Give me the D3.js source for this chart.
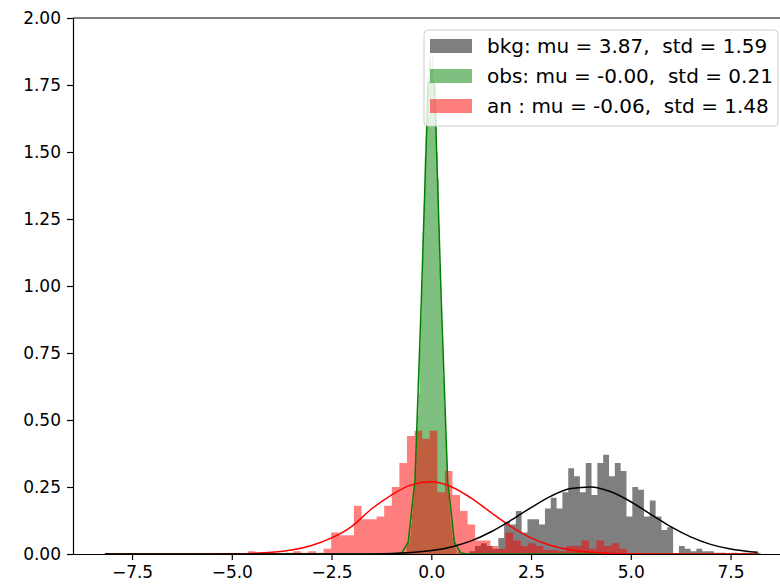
<!DOCTYPE html>
<html>
<head>
<meta charset="utf-8">
<script src="https://cdn.jsdelivr.net/npm/d3@7"></script>
<style>
body { margin: 0; background: #fff; }
svg { display: block; font-family: 'DejaVu Sans', sans-serif; }
.axis path, .axis line { stroke: #000; stroke-width: 1.2; }
.legend text { font-family: 'DejaVu Sans', sans-serif; font-size: 20px; fill: #000; white-space: pre; }
</style>
</head>
<body>
<div id="chart"></div>
<script>
// density histograms (50 bins each)
const bkgBinStart = 0.95, bkgBinWidth = 0.146;
const bkgDensity = [
  0.01, 0.03, 0.04, 0.03, 0.02, 0.06, 0.12, 0.11, 0.16, 0.08,
  0.13, 0.13, 0.11, 0.17, 0.21, 0.17, 0.23, 0.32, 0.29, 0.23,
  0.34, 0.22, 0.34, 0.37, 0.29, 0.34, 0.31, 0.14, 0.25, 0.24,
  0.14, 0.20, 0.14, 0.09, 0.10, 0.00, 0.03, 0.02, 0.01, 0.02,
  0.01, 0.01, 0.005, 0.005, 0.0, 0.005, 0.0, 0.005, 0.0, 0.005
];

const obsBinStart = -0.62, obsBinWidth = 0.0268;
const obsDensity = [
  0.03, 0.04, 0.04, 0.07, 0.11, 0.15, 0.19, 0.26, 0.30, 0.43,
  0.52, 0.60, 0.77, 0.88, 1.02, 1.20, 1.30, 1.48, 1.55, 1.72,
  1.78, 1.85, 1.84, 1.80, 1.86, 1.76, 1.70, 1.66, 1.50, 1.40,
  1.22, 1.07, 0.92, 0.80, 0.66, 0.55, 0.45, 0.36, 0.27, 0.22,
  0.17, 0.12, 0.09, 0.06, 0.04, 0.03, 0.02, 0.0, 0.01, 0.01
];

const anBinStart = -4.6, anBinWidth = 0.19;
const anDensity = [
  0.01, 0.0, 0.0, 0.003, 0.0, 0.005, 0.01, 0.005, 0.01, 0.005,
  0.02, 0.08, 0.07, 0.07, 0.18, 0.13, 0.13, 0.14, 0.18, 0.25,
  0.34, 0.44, 0.46, 0.43, 0.46, 0.23, 0.31, 0.22, 0.16, 0.11,
  0.05, 0.05, 0.03, 0.02, 0.08, 0.05, 0.03, 0.04, 0.03, 0.015,
  0.015, 0.01, 0.03, 0.03, 0.05, 0.02, 0.05, 0.03, 0.04, 0.02
];

// fitted normal curves
const bkgCurveX = [-8.18, -2, -1, -0.5, 0, 0.5, 1, 1.5, 2, 2.5, 3, 3.5, 4, 4.5, 5, 5.5, 6, 6.5, 7, 7.5, 8, 8.18];
const bkgCurveY = [0, 0.0003, 0.0023, 0.0057, 0.013, 0.0265, 0.049, 0.083, 0.126, 0.173, 0.216, 0.244, 0.250, 0.232, 0.195, 0.148, 0.102, 0.064, 0.036, 0.0185, 0.0086, 0.0062];

const obsCurveX = [-8.18, -0.91, -0.74, -0.58, -0.41, -0.25, -0.08, 0.08, 0.25, 0.41, 0.58, 0.74, 0.91, 8.18];
const obsCurveY = [0, 0, 0.004, 0.043, 0.275, 0.946, 1.758, 1.758, 0.946, 0.275, 0.043, 0.004, 0, 0];

const anCurveX = [-8.18, -6, -5, -4.5, -4, -3.5, -3, -2.5, -2, -1.5, -1, -0.5, 0, 0.5, 1, 1.5, 2, 2.5, 3, 3.5, 4, 4.5, 5, 6, 8.18];
const anCurveY = [0, 0.0001, 0.0008, 0.0023, 0.0063, 0.0148, 0.0317, 0.060, 0.1025, 0.168, 0.220, 0.258, 0.2694, 0.251, 0.2086, 0.1547, 0.1023, 0.0604, 0.0318, 0.0149, 0.0063, 0.0023, 0.0008, 0.0001, 0];

const legendLabels = [
  'bkg: mu = 3.87,  std = 1.59',
  'obs: mu = -0.00,  std = 0.21',
  'an : mu = -0.06,  std = 1.48'
];
const xTicks = [-7.5, -5.0, -2.5, 0.0, 2.5, 5.0, 7.5];
const yTicks = [0, 0.25, 0.5, 0.75, 1.0, 1.25, 1.5, 1.75, 2.0];

function bins(start, width, density) {
    return density.map(function (d, i) {
        return {x0: start + i * width, x1: start + (i + 1) * width, v: d};
    });
}

function points(xs, ys) {
    return xs.map(function (d, i) { return [d, ys[i]]; });
}

let svgWidth = 780, svgHeight = 586;
let margin = {top: 18, left: 73},
    plotWidth = 716.6,
    plotHeight = 536;

let x = d3.scaleLinear().domain([-8.98, 8.98]).range([0, plotWidth]);
let y = d3.scaleLinear().domain([0, 2]).range([plotHeight, 0]);

let svg = d3.select('#chart').append('svg')
    .attr('width', svgWidth)
    .attr('height', svgHeight)
    .append('g')
    .attr('transform', 'translate(' + margin.left + ',' + margin.top + ')');

svg.append('clipPath').attr('id', 'plot-clip')
    .append('rect').attr('width', plotWidth).attr('height', plotHeight);

let plot = svg.append('g').attr('clip-path', 'url(#plot-clip)');

let hists = [
    {data: bins(bkgBinStart, bkgBinWidth, bkgDensity), color: '#000000'},
    {data: bins(obsBinStart, obsBinWidth, obsDensity), color: '#008000'},
    {data: bins(anBinStart, anBinWidth, anDensity), color: '#ff0000'}
];

hists.forEach(function (h) {
    // one stepped path per histogram so alpha does not double up at bin edges
    let p = [[h.data[0].x0, 0]];
    h.data.forEach(function (b) {
        p.push([b.x0, b.v]);
        p.push([b.x1, b.v]);
    });
    p.push([h.data[h.data.length - 1].x1, 0]);
    plot.append('path')
        .attr('d', d3.line().x(function (d) { return x(d[0]); }).y(function (d) { return y(d[1]); })(p) + 'Z')
        .attr('fill', h.color)
        .attr('fill-opacity', 0.5)
        .attr('stroke', 'none');
});

let curves = [
    {data: points(obsCurveX, obsCurveY), color: '#008000', curve: d3.curveLinear},
    {data: points(anCurveX, anCurveY), color: '#ff0000', curve: d3.curveMonotoneX},
    {data: points(bkgCurveX, bkgCurveY), color: '#000000', curve: d3.curveMonotoneX}
];

curves.forEach(function (c) {
    plot.append('path')
        .attr('d', d3.line()
            .curve(c.curve)
            .x(function (d) { return x(d[0]); })
            .y(function (d) { return y(d[1]); })(c.data))
        .attr('fill', 'none')
        .attr('stroke', c.color)
        .attr('stroke-width', 1.5);
});

// axes
let xAxis = d3.axisBottom(x).tickValues(xTicks).tickFormat(d3.format('.1f'))
    .tickSizeInner(6).tickSizeOuter(0).tickPadding(6);
let yAxis = d3.axisLeft(y).tickValues(yTicks).tickFormat(d3.format('.2f'))
    .tickSizeInner(6).tickSizeOuter(0).tickPadding(6);

let gx = svg.append('g')
    .attr('class', 'x axis')
    .attr('transform', 'translate(0,' + plotHeight + ')')
    .call(xAxis);

let gy = svg.append('g')
    .attr('class', 'y axis')
    .call(yAxis);

[gx, gy].forEach(function (g) {
    g.selectAll('text')
        .style('font-family', "'DejaVu Sans'")
        .style('font-size', '17px')
        .style('fill', '#000');
});

svg.append('line')
    .attr('x1', 0).attr('x2', plotWidth)
    .attr('y1', 0).attr('y2', 0)
    .attr('stroke', '#000').attr('stroke-width', 1.2);
svg.append('line')
    .attr('x1', plotWidth).attr('x2', plotWidth)
    .attr('y1', 0).attr('y2', plotHeight)
    .attr('stroke', '#000').attr('stroke-width', 1.2);

// legend
let legend = svg.append('g').attr('class', 'legend')
    .attr('transform', 'translate(' + (424 - margin.left) + ',' + (30 - margin.top) + ')');

legend.append('rect')
    .attr('width', 354).attr('height', 96)
    .attr('rx', 4)
    .attr('fill', '#fff').attr('fill-opacity', 0.8)
    .attr('stroke', '#cccccc').attr('stroke-width', 1);

let rows = legend.selectAll('g.row').data(legendLabels)
    .enter().append('g')
    .attr('class', 'row')
    .attr('transform', function (d, i) { return 'translate(6,' + (16 + i * 30) + ')'; });

rows.append('rect')
    .attr('y', -7).attr('width', 42).attr('height', 14)
    .attr('fill', function (d, i) { return hists[i].color; })
    .attr('fill-opacity', 0.5);

rows.append('text')
    .attr('x', 57).attr('dy', '0.36em')
    .text(function (d) { return d; });
</script>
</body>
</html>
